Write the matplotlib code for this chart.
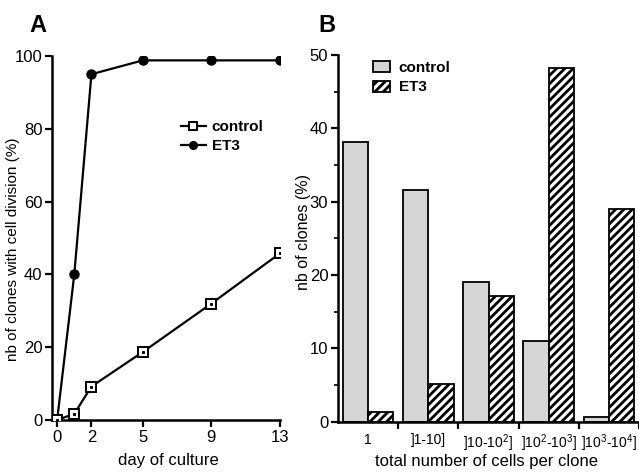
import matplotlib
matplotlib.use("Agg")
import matplotlib.pyplot as plt
import numpy as np

plt.rcParams['font.family'] = ['Liberation Sans', 'DejaVu Sans']
plt.rcParams['mathtext.fontset'] = 'custom'
plt.rcParams['mathtext.rm'] = 'Liberation Sans'
plt.rcParams['hatch.linewidth'] = 2.0

# Panel A data
days = [0, 1, 2, 5, 9, 13]
control_a = [0, 1.7, 9.2, 18.7, 32.0, 45.8]
et3_a = [0, 40, 95, 98.8, 98.8, 98.8]
a_xticks = [0, 2, 5, 9, 13]
a_yticks = [0, 20, 40, 60, 80, 100]

# Panel B data
categories = ['1', ']1-10]', r']10-10$^2$]', r']10$^2$-10$^3$]', r']10$^3$-10$^4$]']
control_b = [38.2, 31.6, 19.1, 11.0, 0.7]
et3_b = [1.3, 5.1, 17.1, 48.2, 29.0]
b_yticks = [0, 10, 20, 30, 40, 50]

fig = plt.figure(figsize=(6.39, 4.74), dpi=100)

# ---------- Panel A ----------
axA = fig.add_axes([52/639, 1-420/474, 228/639, 364/474])
axA.plot(days, et3_a, '-o', color='black', lw=1.6, ms=6.5, mfc='black', mec='black', label='ET3', zorder=3)
axA.plot(days, control_a, '-s', color='black', lw=1.6, ms=6.5, mfc='white', mec='black', mew=1.4, label='control', zorder=4)
axA.plot(days, control_a, 's', color='black', ms=1.2, zorder=5)
axA.set_xlim(-0.3, 13.0)
axA.set_ylim(0, 100)
axA.set_xticks(a_xticks)
axA.set_yticks(a_yticks)
for s in ['top', 'right']:
    axA.spines[s].set_visible(False)
for s in ['left', 'bottom']:
    axA.spines[s].set_linewidth(1.8)
axA.tick_params(direction='out', length=5, width=1.6, labelsize=12, pad=2)
axA.set_xlabel('day of culture', fontsize=12)
axA.xaxis.set_label_coords(0.509, -0.09)
axA.set_ylabel('nb of clones with cell division (%)', fontsize=11)
axA.yaxis.set_label_coords(-0.14, 0.47)
hA = axA.get_legend_handles_labels()
leg = axA.legend([hA[0][1], hA[0][0]], ['control', 'ET3'], loc='upper left',
                 bbox_to_anchor=(0.54, 0.84), frameon=False, handlelength=1.6,
                 handletextpad=0.4, labelspacing=0.3, borderaxespad=0,
                 prop={'weight': 'bold', 'size': 11})
for l in leg.get_lines():
    l.set_markersize(5.5)
fig.text(29/639, 1-25/474, 'A', fontsize=17, fontweight='bold', ha='left', va='center')

# ---------- Panel B ----------
axB = fig.add_axes([338/639, 1-421.7/474, 301/639, 366.7/474])
x = np.arange(len(categories))
w = 0.42
axB.bar(x - w/2, control_b, width=w, color='#d6d6d6', edgecolor='black', lw=1.3, label='control')
axB.bar(x + w/2, et3_b, width=w, color='white', edgecolor='black', lw=1.3, hatch='////', label='ET3')
axB.set_xlim(-0.5, 4.43)
axB.set_ylim(0, 50)
axB.set_yticks(b_yticks)
axB.set_yticks([5, 15, 25, 35, 45], minor=True)
axB.set_xticks(x + 0.5)
axB.set_xticklabels([])
axB.set_xticks(x, minor=True)
axB.set_xticklabels(categories, minor=True)
for s in ['top', 'right']:
    axB.spines[s].set_visible(False)
for s in ['left', 'bottom']:
    axB.spines[s].set_linewidth(1.8)
axB.tick_params(axis='both', which='major', direction='out', length=5, width=1.6, labelsize=12, pad=2)
axB.tick_params(axis='y', which='minor', direction='out', length=3, width=1.2)
axB.tick_params(axis='x', which='minor', length=0, labelsize=10, pad=8)
axB.set_xlabel('total number of cells per clone', fontsize=12)
axB.xaxis.set_label_coords(0.493, -0.088)
axB.set_ylabel('nb of clones (%)', fontsize=11.5)
axB.yaxis.set_label_coords(-0.09, 0.517)
axB.legend(loc='upper left', bbox_to_anchor=(0.095, 1.0), frameon=False, handlelength=1.1,
           handleheight=0.75, handletextpad=0.6, labelspacing=0.35, borderaxespad=0,
           prop={'weight': 'bold', 'size': 11})
fig.text(318/639, 1-25/474, 'B', fontsize=17, fontweight='bold', ha='left', va='center')

fig.savefig('out.png', dpi=100)
